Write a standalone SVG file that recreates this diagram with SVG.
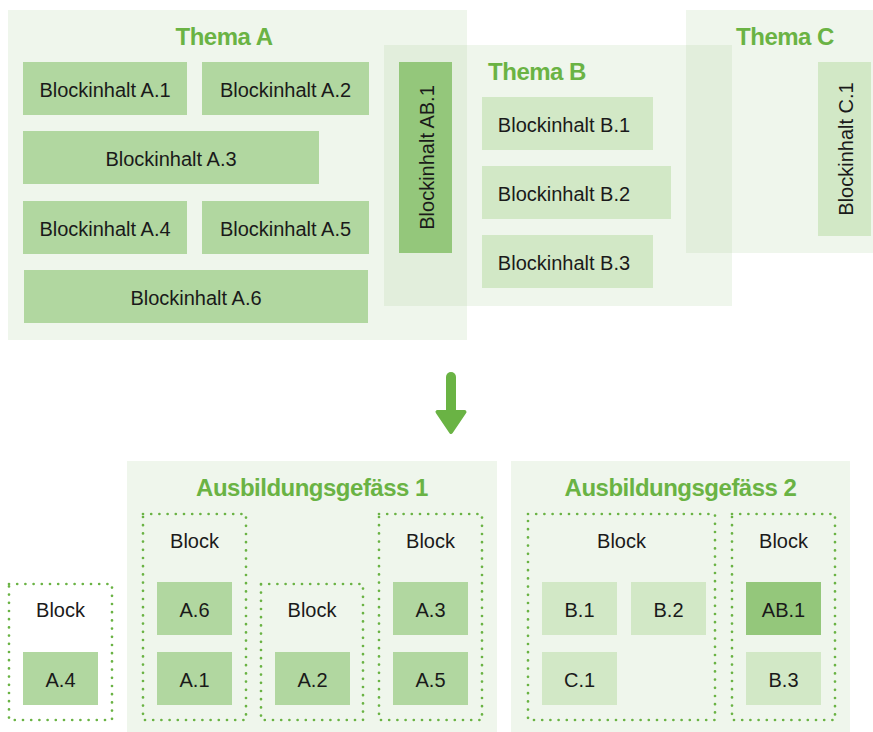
<svg xmlns="http://www.w3.org/2000/svg" width="873" height="732" viewBox="0 0 873 732">
<style>
.theme{fill:#a9cf98;fill-opacity:0.19}
.ag{fill:#eff6ec}
.ba{fill:#b1d7a0}
.bb{fill:#d2e8c6}
.bd{fill:#94c77b}
.dot{fill:none;stroke:#6ab344;stroke-width:2.7;stroke-linecap:round;stroke-dasharray:0 8.2}
.t{font-family:"Liberation Sans",Arial,sans-serif;font-size:20px;fill:#1a1a1a;text-anchor:middle}
.h{font-family:"Liberation Sans",Arial,sans-serif;font-size:24px;font-weight:bold;fill:#6ab344;text-anchor:middle;letter-spacing:-0.5px}
</style>
<rect width="873" height="732" fill="#ffffff"/>
<g id="themaA-bg"><rect class="theme" x="8" y="10" width="459" height="330"/></g>
<g id="themaB-bg"><rect class="theme" x="384" y="45" width="348" height="261"/></g>
<g id="themaC-bg"><rect class="theme" x="686" y="10" width="187" height="243"/></g>
<g id="themaA-title"><text class="h" x="224" y="45">Thema A</text></g>
<g id="themaB-title"><text class="h" x="537" y="80">Thema B</text></g>
<g id="themaC-title"><text class="h" x="785" y="45">Thema C</text></g>
<g id="blA1"><rect class="ba" x="23" y="62" width="164" height="53"/><text class="t" x="105" y="97">Blockinhalt A.1</text></g>
<g id="blA2"><rect class="ba" x="202" y="62" width="167" height="53"/><text class="t" x="285.5" y="97">Blockinhalt A.2</text></g>
<g id="blA3"><rect class="ba" x="23" y="131" width="296" height="53"/><text class="t" x="171" y="166">Blockinhalt A.3</text></g>
<g id="blA4"><rect class="ba" x="23" y="201" width="164" height="53"/><text class="t" x="105" y="236">Blockinhalt A.4</text></g>
<g id="blA5"><rect class="ba" x="202" y="201" width="167" height="53"/><text class="t" x="285.5" y="236">Blockinhalt A.5</text></g>
<g id="blA6"><rect class="ba" x="24" y="270" width="344" height="53"/><text class="t" x="196" y="305">Blockinhalt A.6</text></g>
<g id="blAB1"><rect class="bd" x="399" y="62" width="53" height="191"/><text class="t" transform="translate(434,157.5) rotate(-90)">Blockinhalt AB.1</text></g>
<g id="blB1"><rect class="bb" x="482" y="97" width="171" height="53"/><text class="t" x="564" y="132">Blockinhalt B.1</text></g>
<g id="blB2"><rect class="bb" x="482" y="166" width="189" height="53"/><text class="t" x="564" y="201">Blockinhalt B.2</text></g>
<g id="blB3"><rect class="bb" x="482" y="235" width="171" height="53"/><text class="t" x="564" y="270">Blockinhalt B.3</text></g>
<g id="blC1"><rect class="bb" x="818" y="62" width="53" height="174"/><text class="t" transform="translate(853,149) rotate(-90)">Blockinhalt C.1</text></g>
<g id="connectors">
<line x1="451" y1="377" x2="451" y2="412" stroke="#6ab344" stroke-width="10" stroke-linecap="round"/>
<polygon points="437.5,412 464.5,412 451,432" fill="#6ab344" stroke="#6ab344" stroke-width="4" stroke-linejoin="round"/>
</g>
<g id="ag1"><rect class="ag" x="127" y="461" width="370" height="271"/><text class="h" x="312" y="496">Ausbildungsgefäss 1</text></g>
<g id="ag2"><rect class="ag" x="511" y="461" width="339" height="271"/><text class="h" x="680.5" y="496">Ausbildungsgefäss 2</text></g>
<g id="block0"><rect class="dot" x="9" y="584" width="103" height="136"/><text class="t" x="60.5" y="617">Block</text></g>
<g id="block1"><rect class="dot" x="143" y="514" width="103" height="206"/><text class="t" x="194.5" y="548">Block</text></g>
<g id="block2"><rect class="dot" x="261" y="584" width="102" height="136"/><text class="t" x="312" y="617">Block</text></g>
<g id="block3"><rect class="dot" x="379" y="514" width="103" height="206"/><text class="t" x="430.5" y="548">Block</text></g>
<g id="block4"><rect class="dot" x="528" y="514" width="187" height="206"/><text class="t" x="621.5" y="548">Block</text></g>
<g id="block5"><rect class="dot" x="732" y="514" width="103" height="206"/><text class="t" x="783.5" y="548">Block</text></g>
<g id="sA4"><rect class="ba" x="23" y="652" width="75" height="53"/><text class="t" x="60.5" y="687">A.4</text></g>
<g id="sA6"><rect class="ba" x="157" y="582" width="75" height="53"/><text class="t" x="194.5" y="617">A.6</text></g>
<g id="sA1"><rect class="ba" x="157" y="652" width="75" height="53"/><text class="t" x="194.5" y="687">A.1</text></g>
<g id="sA2"><rect class="ba" x="275" y="652" width="75" height="53"/><text class="t" x="312.5" y="687">A.2</text></g>
<g id="sA3"><rect class="ba" x="393" y="582" width="75" height="53"/><text class="t" x="430.5" y="617">A.3</text></g>
<g id="sA5"><rect class="ba" x="393" y="652" width="75" height="53"/><text class="t" x="430.5" y="687">A.5</text></g>
<g id="sB1"><rect class="bb" x="542" y="582" width="75" height="53"/><text class="t" x="579.5" y="617">B.1</text></g>
<g id="sB2"><rect class="bb" x="631" y="582" width="75" height="53"/><text class="t" x="668.5" y="617">B.2</text></g>
<g id="sC1"><rect class="bb" x="542" y="652" width="75" height="53"/><text class="t" x="579.5" y="687">C.1</text></g>
<g id="sAB1"><rect class="bd" x="746" y="582" width="75" height="53"/><text class="t" x="783.5" y="617">AB.1</text></g>
<g id="sB3"><rect class="bb" x="746" y="652" width="75" height="53"/><text class="t" x="783.5" y="687">B.3</text></g>
</svg>
